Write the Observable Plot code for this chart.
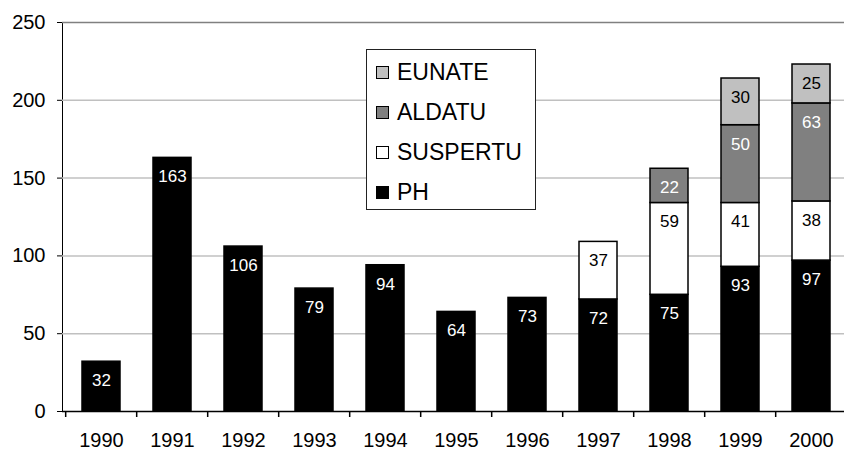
<!DOCTYPE html>
<html>
<head>
<meta charset="utf-8">
<script src="https://cdn.jsdelivr.net/npm/d3@7"></script>
<script src="https://cdn.jsdelivr.net/npm/@observablehq/plot@0.6"></script>
<style>
  html, body { margin: 0; padding: 0; background: #fff; }
  #wrap { position: relative; width: 844px; height: 452px; font-family: "Liberation Sans", Arial, sans-serif; }
  #legend { position: absolute; left: 366px; top: 49px; width: 170px; height: 161px; border: 1px solid #222; background: #fff; box-sizing: border-box; }
  .item { position: absolute; left: 9px; height: 24px; display: flex; align-items: center; font-size: 23px; color: #000; }
  .sw { width: 11px; height: 11px; border: 1.5px solid #000; margin-right: 8px; box-sizing: content-box; }
</style>
</head>
<body>
<div id="wrap"><div id="legend"></div></div>
<script>
const years = [1990, 1991, 1992, 1993, 1994, 1995, 1996, 1997, 1998, 1999, 2000];
const PH       = [32, 163, 106, 79, 94, 64, 73, 72, 75, 93, 97];
const SUSPERTU = [null, null, null, null, null, null, null, 37, 59, 41, 38];
const ALDATU   = [null, null, null, null, null, null, null, null, 22, 50, 63];
const EUNATE   = [null, null, null, null, null, null, null, null, null, 30, 25];
const seriesNames = ["PH", "SUSPERTU", "ALDATU", "EUNATE"];
const seriesColors = ["#000000", "#ffffff", "#808080", "#c0c0c0"];
const labelColors = ["#ffffff", "#000000", "#ffffff", "#000000"];
const legendOrder = ["EUNATE", "ALDATU", "SUSPERTU", "PH"];
const yTicks = [0, 50, 100, 150, 200, 250];

const seriesValues = {PH, SUSPERTU, ALDATU, EUNATE};
const rows = [];
seriesNames.forEach(s => {
  seriesValues[s].forEach((v, i) => {
    if (v != null) rows.push({year: years[i], series: s, value: v});
  });
});

const W = 844, H = 452, mL = 62, mT = 22, mB = 41;
const xRange = [62, 850];
const step = (xRange[1] - xRange[0]) / years.length;
const labelColorOf = s => labelColors[seriesNames.indexOf(s)];

const chart = Plot.plot({
  width: W,
  height: H,
  marginLeft: mL,
  marginRight: 0,
  marginTop: mT,
  marginBottom: mB,
  style: {fontFamily: "'Liberation Sans', Arial, sans-serif", fontSize: "20px", background: "#fff", color: "#000", overflow: "hidden"},
  x: {type: "band", domain: years, range: xRange, paddingInner: 0.47, paddingOuter: 0.235, tickSize: 0, tickPadding: 21, label: null, tickFormat: d => String(d)},
  y: {domain: [0, 250], ticks: yTicks, tickSize: 5, tickPadding: 12, label: null, line: true},
  color: {domain: seriesNames, range: seriesColors},
  marks: [
    Plot.ruleY(yTicks.filter(t => t > 0 && t < 250), {stroke: "#c0c0c0", strokeWidth: 1.5, strokeOpacity: 1}),
    Plot.ruleY([250], {stroke: "#808080", strokeWidth: 1.5, strokeOpacity: 1}),
    Plot.barY(rows, {x: "year", y: "value", fill: "series", z: "series", order: seriesNames, stroke: "#000", strokeWidth: 1.5}),
    Plot.text(rows, Plot.stackY2({x: "year", y: "value", z: "series", order: seriesNames,
      text: d => labelColorOf(d.series) === "#ffffff" ? String(d.value) : null,
      fill: "#fff", dy: 19, fontSize: 17, lineAnchor: "middle"})),
    Plot.text(rows, Plot.stackY2({x: "year", y: "value", z: "series", order: seriesNames,
      text: d => labelColorOf(d.series) === "#000000" ? String(d.value) : null,
      fill: "#000", dy: 19, fontSize: 17, lineAnchor: "middle"})),
    Plot.ruleY([0], {stroke: "#000", strokeWidth: 1.5}),
    Plot.ruleX(years, {x: d => d, dx: -step / 2, stroke: "#000", strokeWidth: 1.5,
      insetTop: H - mB - mT, insetBottom: -6})
  ]
});

document.getElementById("wrap").prepend(chart);

const legend = document.getElementById("legend");
legendOrder.forEach((s, i) => {
  const it = document.createElement("div");
  it.className = "item";
  it.style.top = (10 + i * 40) + "px";
  const sw = document.createElement("span");
  sw.className = "sw";
  sw.style.background = seriesColors[seriesNames.indexOf(s)];
  const tx = document.createElement("span");
  tx.textContent = s;
  it.appendChild(sw);
  it.appendChild(tx);
  legend.appendChild(it);
});
</script>
</body>
</html>
